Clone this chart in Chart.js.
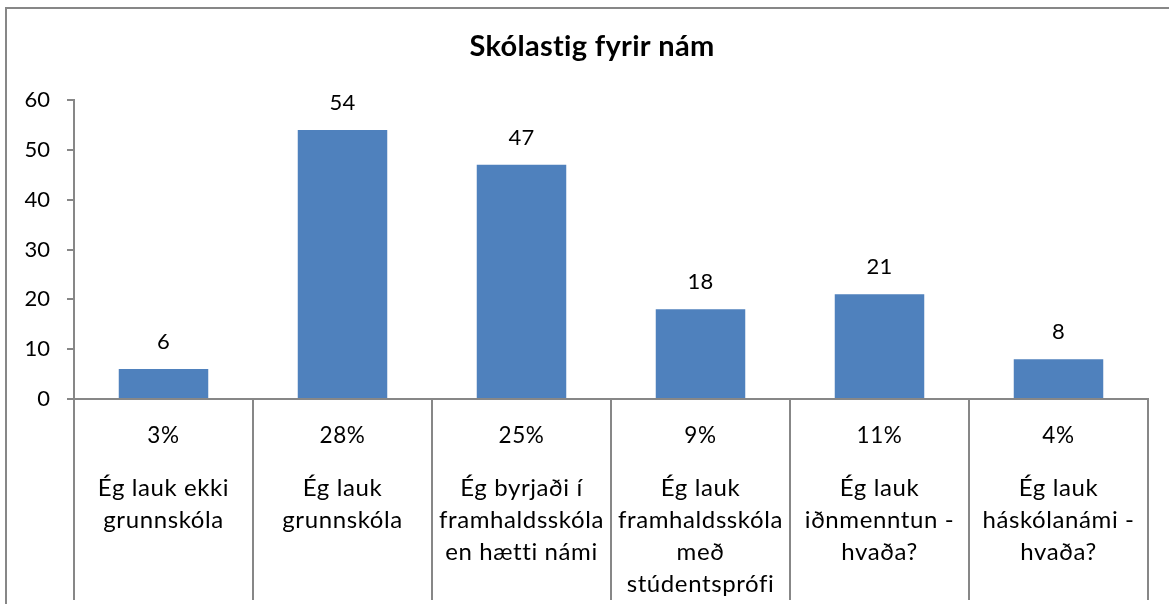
<!DOCTYPE html>
<html>
<head>
<meta charset="utf-8">
<script src="https://cdn.jsdelivr.net/npm/chart.js@4.4.1/dist/chart.umd.min.js"></script>
<style>
  html, body { margin: 0; padding: 0; background: #fff; overflow: hidden; }
  #wrap { position: relative; width: 1169px; height: 604px; }
  #frame { position: absolute; left: 5px; top: 7px; width: 1200px; height: 700px; border: 2px solid #878787; box-sizing: border-box; }
  canvas { position: absolute; left: 0; top: 0; }
</style>
</head>
<body>
<div id="wrap">
  <div id="frame"></div>
  <canvas id="c" width="1169" height="604"></canvas>
</div>
<script>
const title = 'Skólastig fyrir nám';
const categories = [
  ['Ég lauk ekki', 'grunnskóla'],
  ['Ég lauk', 'grunnskóla'],
  ['Ég byrjaði í', 'framhaldsskóla', 'en hætti námi'],
  ['Ég lauk', 'framhaldsskóla', 'með', 'stúdentsprófi'],
  ['Ég lauk', 'iðnmenntun -', 'hvaða?'],
  ['Ég lauk', 'háskólanámi -', 'hvaða?']
];
const counts = [6, 54, 47, 18, 21, 8];
const percents = ['3%', '28%', '25%', '9%', '11%', '4%'];
const yTicks = [0, 10, 20, 30, 40, 50, 60];

const FONT = 'Lato, "Open Sans", sans-serif';

const tablePlugin = {
  id: 'tablePlugin',
  afterDraw(chart) {
    const ctx = chart.ctx;
    const x = chart.scales.x;
    const area = chart.chartArea;
    ctx.save();
    ctx.fillStyle = '#000';
    ctx.textAlign = 'center';
    ctx.textBaseline = 'middle';
    if ('letterSpacing' in ctx) ctx.letterSpacing = '0.3px';
    ctx.font = 'bold 29px ' + FONT;
    ctx.fillText(title, 592, 47);
    ctx.font = '22px ' + FONT;
    const meta = chart.getDatasetMeta(0);
    meta.data.forEach((bar, i) => {
      ctx.fillText(String(counts[i]), bar.x, bar.y - 27);
    });
    if ('letterSpacing' in ctx) ctx.letterSpacing = '0.6px';
    categories.forEach((lines, i) => {
      const cx = x.getPixelForValue(i);
      ctx.font = '22.5px ' + FONT;
      ctx.fillText(percents[i], cx, area.bottom + 37);
      ctx.font = '24px ' + FONT;
      lines.forEach((ln, j) => {
        ctx.fillText(ln, cx, area.bottom + 89 + j * 32);
      });
    });
    ctx.restore();
  }
};

new Chart(document.getElementById('c'), {
  type: 'bar',
  data: {
    labels: categories.map(c => c.join(' ')),
    datasets: [{
      data: counts,
      backgroundColor: '#4F81BD',
      borderWidth: 0,
      categoryPercentage: 0.5,
      barPercentage: 1.0
    }]
  },
  options: {
    responsive: false,
    animation: false,
    events: [],
    layout: { padding: { left: 0, right: 21, top: 100, bottom: 4 } },
    plugins: { legend: { display: false }, title: { display: false }, tooltip: { enabled: false } },
    scales: {
      x: {
        offset: true,
        grid: { display: true, drawOnChartArea: false, drawTicks: true, tickLength: 201, color: '#878787', lineWidth: 2, offset: true },
        border: { display: true, color: '#878787', width: 2 },
        ticks: { display: false }
      },
      y: {
        min: 0, max: 60,
        afterBuildTicks(scale) { scale.ticks = yTicks.map(v => ({ value: v })); },
        afterFit(scale) { scale.width = 74; },
        grid: { drawOnChartArea: false, drawTicks: true, tickLength: 7, color: '#878787', lineWidth: 2 },
        border: { display: true, color: '#878787', width: 2 },
        ticks: { color: '#000', font: { family: FONT, size: 22 }, padding: 17 }
      }
    }
  },
  plugins: [tablePlugin]
});
</script>
</body>
</html>
